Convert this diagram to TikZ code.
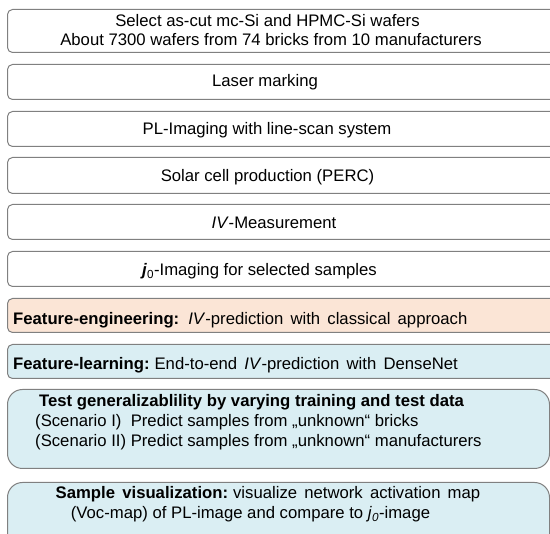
\documentclass[tikz,border=0pt]{standalone}
\usepackage{fontspec}
\setmainfont{Liberation Sans}
\usepackage{xcolor}
\definecolor{orangeclair}{HTML}{FBE5D6}
\definecolor{bleuclair}{HTML}{DAEEF3}
\definecolor{bordgris}{HTML}{808080}
\newcommand\espacelarge{\spaceskip=7.2pt\relax}

\begin{document}
\begin{tikzpicture}[x=1pt, y=-1pt,
    boite/.style={draw=bordgris, line width=1pt, rounded corners=5pt, anchor=north west,
      inner sep=0pt, minimum width=560pt, minimum height=35pt},
    grande/.style={boite, rounded corners=15pt, minimum width=542pt},
    txt/.style={anchor=base, inner sep=0pt, font=\fontsize{16.7}{20}\selectfont},
    txtg/.style={txt, anchor=base west}]
    \useasboundingbox (0,0) rectangle (550,534);
    \clip (0,0) rectangle (550,534);

    % Boîtes
    \node[boite, minimum height=43pt] (select) at (7,9) {};
    \node[boite] (laser) at (7,64) {};
    \node[boite] (pl) at (7,111) {};
    \node[boite, minimum height=36pt] (cell) at (7,157) {};
    \node[boite] (iv) at (7,204) {};
    \node[boite] (jzero) at (7,251) {};
    \node[boite, fill=orangeclair, minimum height=34pt] (engin) at (7,298) {};
    \node[boite, fill=bleuclair, minimum height=34pt] (learn) at (7,344) {};
    \node[grande, fill=bleuclair, minimum height=79pt] (test) at (7,389) {};
    \node[grande, fill=bleuclair, minimum height=90pt] (visu) at (7,482) {};

    % Textes
    \node[txt] (select1) at (267.5,27) {Select as-cut mc-Si and HPMC-Si wafers};
    \node[txt] (select2) at (271,46) {About 7300 wafers from 74 bricks from 10 manufacturers};
    \node[txt] (lasert) at (265,87) {Laser marking};
    \node[txt] (plt) at (267,135) {PL-Imaging with line-scan system};
    \node[txt] (cellt) at (267.5,182) {Solar cell production (PERC)};
    \node[txt] (ivt) at (274,229) {\textit{IV}-Measurement};
    \node[txt] (jzerot) at (259.5,276) {\textbf{\textit{j}}\textsubscript{0}-Imaging for selected samples};
    \node[txtg] (engint) at (13,325) {\espacelarge\textbf{Feature-engineering:}\hspace{9pt}\textit{IV}-prediction with classical approach};
    \node[txtg] (learnt) at (13,370) {\espacelarge\textbf{Feature-learning:}\hspace{5pt}End-to-end \textit{IV}-prediction with DenseNet};
    \node[txtg] (test1) at (39,407) {\textbf{Test generalizablility by varying training and test data}};
    \node[txtg] (test2) at (35,427) {(Scenario I)\ \ Predict samples from „unknown“ bricks};
    \node[txtg] (test3) at (35,447) {(Scenario II) Predict samples from „unknown“ manufacturers};
    \node[txt] (visu1) at (268,499) {\espacelarge\textbf{Sample visualization:}\hspace{5pt}visualize network activation map};
    \node[txt] (visu2) at (250.5,519) {(Voc-map) of PL-image and compare to \textit{j}\textsubscript{\textit{0}}-image};
\end{tikzpicture}
\end{document}
